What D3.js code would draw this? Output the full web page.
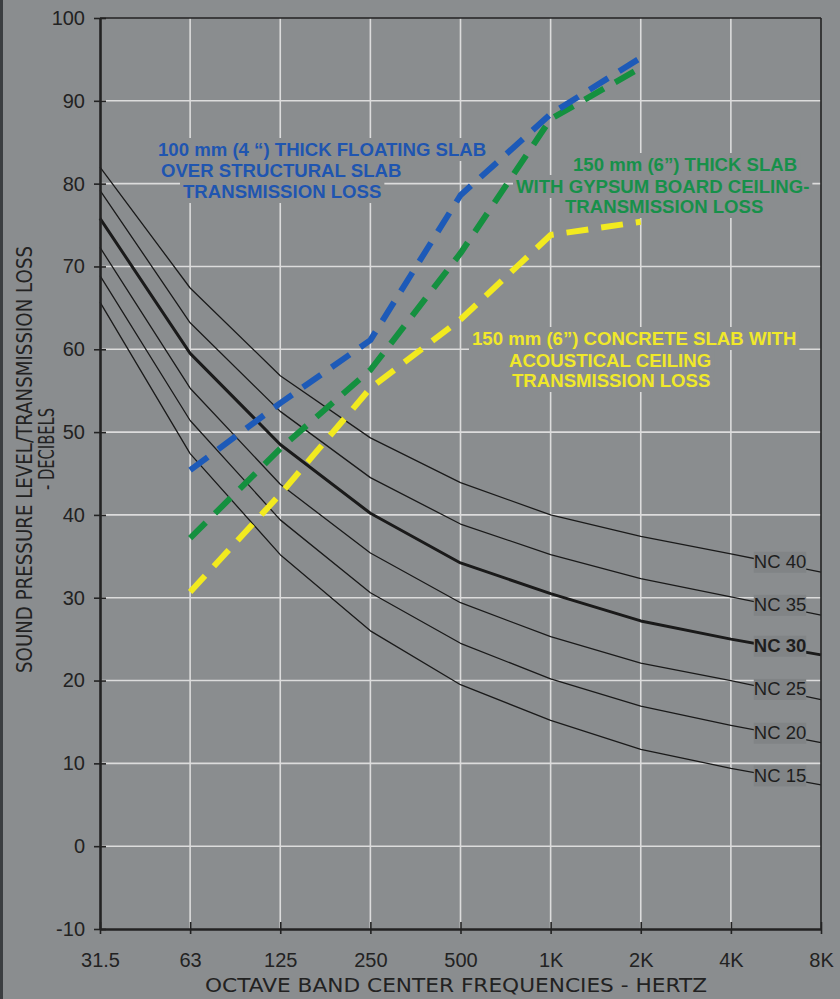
<!DOCTYPE html>
<html><head><meta charset="utf-8">
<script src="https://cdn.jsdelivr.net/npm/d3@7"></script>
<style>html,body{margin:0;padding:0;background:#8a8d8f;}svg{display:block;}</style>
</head><body>
<svg id="chart" width="840" height="999"></svg>
<script>
// ---- data ----
const freqs = ["31.5","63","125","250","500","1K","2K","4K","8K"];
const yTicks = [-10,0,10,20,30,40,50,60,70,80,90,100];
const ncNames = ["NC 40","NC 35","NC 30","NC 25","NC 20","NC 15"];
const nc40 = [82.0, 67.4, 56.8, 49.3, 43.9, 40.0, 37.4, 35.3, 33.1];
const nc35 = [79.2, 63.2, 52.5, 44.5, 38.9, 35.2, 32.3, 30.1, 27.9];
const nc30 = [75.8, 59.5, 48.5, 40.2, 34.2, 30.5, 27.2, 25.0, 23.1];
const nc25 = [72.3, 55.3, 43.7, 35.4, 29.4, 25.3, 22.1, 20.0, 17.7];
const nc20 = [68.9, 51.4, 39.4, 30.6, 24.5, 20.2, 16.9, 14.6, 12.5];
const nc15 = [65.7, 47.4, 35.2, 26.0, 19.5, 15.2, 11.7,  9.4,  7.4];
const tlFreqs = ["63","125","250","500","1K","2K"];
const tlFloating = [45.4, 53.5, 61.1, 78.6, 88.4, 95.2];
const tlGypsum   = [37.2, 48.0, 57.5, 71.6, 87.8, 94.0];
const tlAcoust   = [30.7, 42.5, 55.3, 63.6, 73.8, 75.4];
const floatingLabel = ["100 mm (4 \u201C) THICK FLOATING SLAB","OVER STRUCTURAL SLAB","TRANSMISSION LOSS"];
const gypsumLabel = ["150 mm (6\u201D) THICK SLAB","WITH GYPSUM BOARD CEILING-","TRANSMISSION LOSS"];
const acoustLabel = ["150 mm (6\u201D) CONCRETE SLAB WITH","ACOUSTICAL CEILING","TRANSMISSION LOSS"];
const xTitle = "OCTAVE BAND CENTER FREQUENCIES - HERTZ";
const yTitle = ["SOUND PRESSURE LEVEL/TRANSMISSION LOSS","- DECIBELS"];

// ---- drawing ----
const svg = d3.select("#chart");
const BG = "#8a8d8f";
svg.append("rect").attr("width",840).attr("height",999).attr("fill",BG);
svg.append("rect").attr("x",0).attr("y",0).attr("width",3).attr("height",999).attr("fill","#3b3e41");

const x = d3.scalePoint().domain(freqs).range([100,821]);
const y = d3.scaleLinear().domain([-10,100]).range([929,18]);

// grid
const grid = svg.append("g");
grid.selectAll(".vg").data(freqs.slice(1,-1)).join("line")
  .attr("x1",d=>x(d)).attr("x2",d=>x(d)).attr("y1",y(100)).attr("y2",y(-10))
  .attr("stroke","#dcdcdc").attr("stroke-width",1.6);
grid.selectAll(".hg").data(yTicks.filter(v=>v>-10&&v<100)).join("line")
  .attr("x1",x("31.5")).attr("x2",x("8K")).attr("y1",d=>y(d)).attr("y2",d=>y(d))
  .attr("stroke","#dcdcdc").attr("stroke-width",1.6);

const annBg = svg.append("g");
const linesG = svg.append("g");
const annG = svg.append("g");

// NC curves
const ncSeries = [nc40,nc35,nc30,nc25,nc20,nc15];
const line = d3.line().x((d,i)=>x(freqs[i])).y(d=>y(d));
ncSeries.forEach((s,k)=>{
  linesG.append("path").datum(s).attr("d",line).attr("fill","none")
    .attr("stroke","#1a1a1a").attr("stroke-width", k===2?3:1.3).attr("stroke-linejoin","round");
});

// transmission loss dashed lines
const tlLine = d3.line().x((d,i)=>x(tlFreqs[i])).y(d=>y(d));
[[tlAcoust,"#f2ea1f"],[tlGypsum,"#14903f"],[tlFloating,"#1d5ab8"]].forEach(([s,c])=>{
  linesG.append("path").datum(s).attr("d",tlLine).attr("fill","none")
    .attr("stroke",c).attr("stroke-width",6).attr("stroke-dasharray","22,13")
    .attr("stroke-linejoin","round");
});

// NC labels
const t = 0.545;
ncSeries.forEach((s,k)=>{
  const cx = x("4K") + t*(x("8K")-x("4K"));
  const cy = y(s[7] + t*(s[8]-s[7]));
  const txt = annG.append("text").attr("x",cx).attr("y",cy+4.5)
    .attr("text-anchor","middle").attr("font-family","Liberation Sans, Arial, sans-serif")
    .attr("font-size",18.5).attr("font-weight",k===2?"bold":"normal").attr("fill","#1e1e1e")
    .text(ncNames[k]);
  const bb = txt.node().getBBox();
  annG.insert("rect","text").attr("x",bb.x).attr("y",cy-12).attr("width",bb.width).attr("height",21)
    .attr("fill","#818486");
});

// annotations
function annotate(lines, xs, ys, color){
  lines.forEach((l,i)=>{
    const tx = annG.append("text").attr("x",xs[i]).attr("y",ys[i])
      .attr("font-family","Liberation Sans, Arial, sans-serif").attr("font-size",18.6)
      .attr("font-weight","bold").attr("fill",color).text(l);
    const bb = tx.node().getBBox();
    annBg.append("rect").attr("x",bb.x-3).attr("y",bb.y-1).attr("width",bb.width+6).attr("height",bb.height+2)
      .attr("fill",BG);
  });
}
annotate(floatingLabel,[158,161,183],[156,177,198],"#1f55b0");
annotate(gypsumLabel,[573,516,565],[171,193,213],"#17904a");
annotate(acoustLabel,[472,509,512],[345,367,387],"#f0e82a");

// axes
const axG = svg.append("g");
const yAxis = axG.append("g").attr("transform",`translate(${x("31.5")},0)`)
  .call(d3.axisLeft(y).tickValues(yTicks).tickFormat(d=>String(d)).tickSize(6).tickSizeOuter(0).tickPadding(9));
yAxis.select(".domain").attr("stroke","#222").attr("stroke-width",2.6);
yAxis.selectAll(".tick line").attr("x2",-6).attr("x1",6).attr("stroke","#222").attr("stroke-width",1.6);
yAxis.selectAll(".tick text").attr("font-family","Liberation Sans, Arial, sans-serif").attr("font-size",20).attr("fill","#222");

const xAxis = axG.append("g").attr("transform",`translate(0,${y(-10)})`)
  .call(d3.axisBottom(x).tickSize(5).tickSizeOuter(0));
xAxis.select(".domain").attr("stroke","#222").attr("stroke-width",2.6);
xAxis.selectAll(".tick line").attr("y1",-7).attr("stroke","#222").attr("stroke-width",1.6);
xAxis.selectAll(".tick text").attr("y",38).attr("dy",0).attr("font-family","Liberation Sans, Arial, sans-serif").attr("font-size",20).attr("fill","#222");

// top & right border
axG.append("line").attr("x1",x("31.5")).attr("x2",x("8K")).attr("y1",y(100)).attr("y2",y(100)).attr("stroke","#222").attr("stroke-width",1.6);
axG.append("line").attr("x1",x("8K")).attr("x2",x("8K")).attr("y1",y(100)).attr("y2",y(-10)).attr("stroke","#222").attr("stroke-width",1.6);

// axis titles
svg.append("text").attr("x",205).attr("y",992).attr("textLength",502).attr("lengthAdjust","spacingAndGlyphs")
  .attr("font-family","DejaVu Sans, sans-serif").attr("font-size",19).attr("fill","#222").text(xTitle);
svg.append("text").attr("transform","translate(32,673) rotate(-90)").attr("textLength",427).attr("lengthAdjust","spacingAndGlyphs")
  .attr("font-family","DejaVu Sans, sans-serif").attr("font-size",21).attr("fill","#222").text(yTitle[0]);
svg.append("text").attr("transform","translate(54,490) rotate(-90)").attr("textLength",82).attr("lengthAdjust","spacingAndGlyphs")
  .attr("font-family","DejaVu Sans, sans-serif").attr("font-size",21).attr("fill","#222").text(yTitle[1]);
</script>
</body></html>
